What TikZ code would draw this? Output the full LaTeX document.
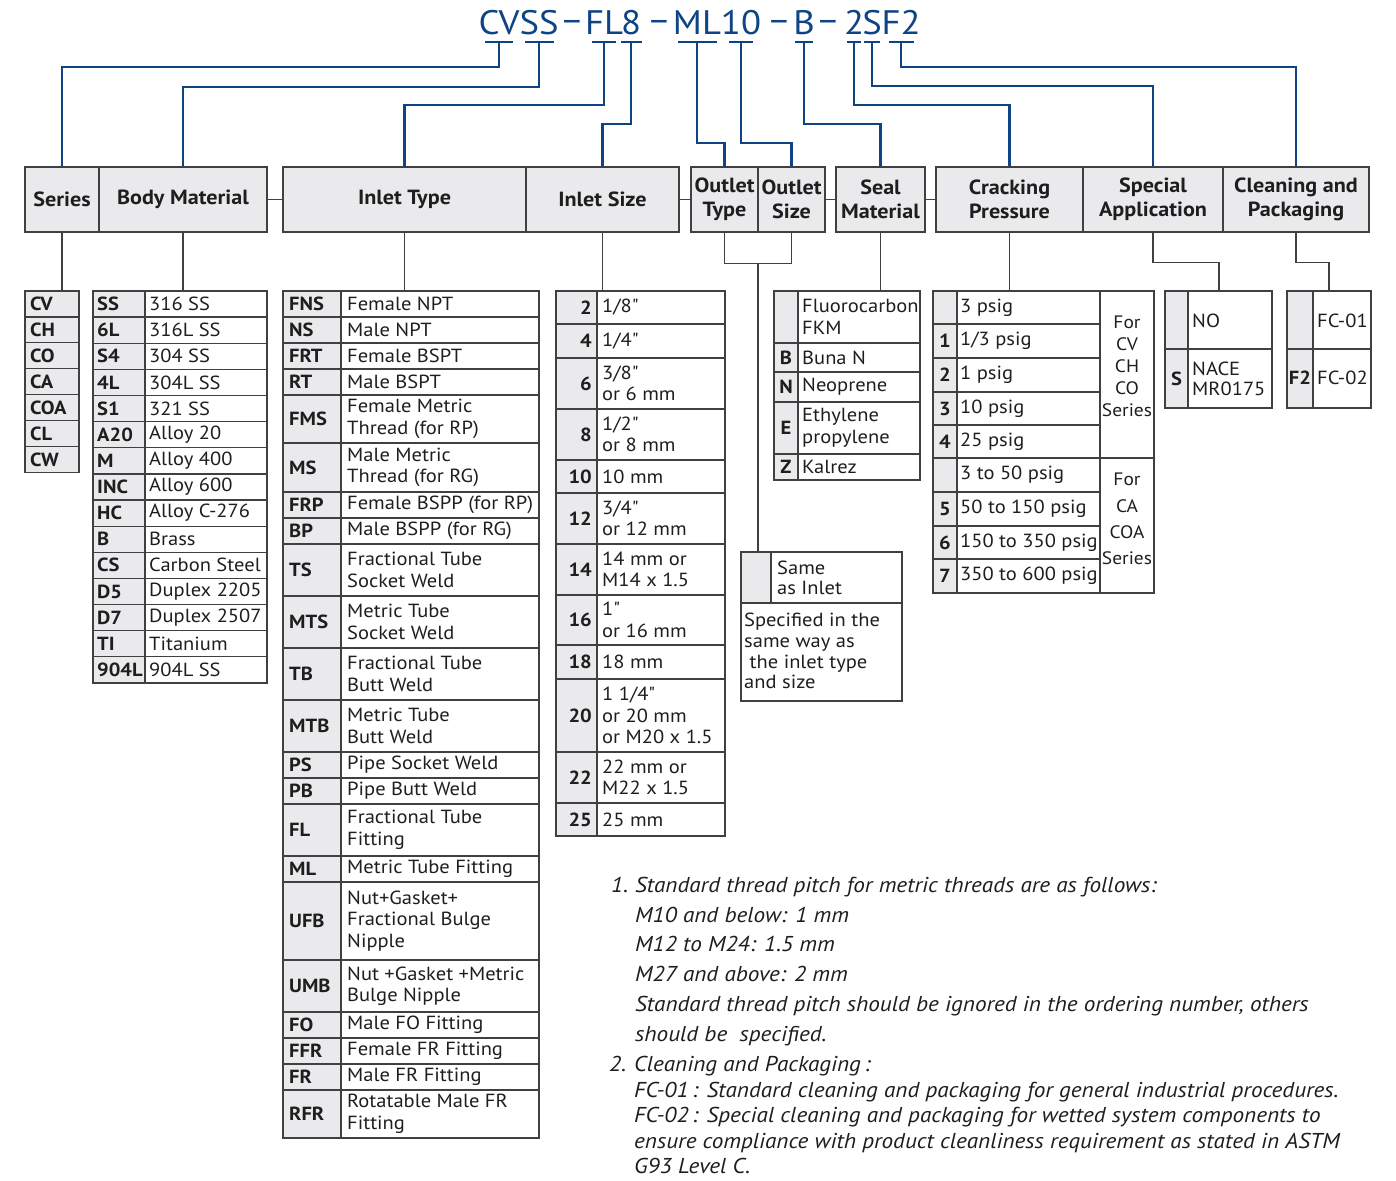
\documentclass[tikz,border=0pt]{standalone}
\usepackage{fontspec}
\setmainfont{PT Sans}[FakeStretch=1.08,Ligatures=TeXOff]
\definecolor{codeblue}{RGB}{14,68,132}
\definecolor{rulegray}{RGB}{64,64,64}
\definecolor{boxgray}{RGB}{234,234,237}
\definecolor{txtgray}{RGB}{30,30,30}
\newcommand\cellfont{\fontsize{19}{21.5}\selectfont}
\newcommand\hdrfont{\fontsize{20.5}{24}\selectfont\bfseries}
\newcommand\titlefont{\fontsize{34}{40}\selectfont}
\newcommand\notefont{\fontsize{21.5}{29.7}\selectfont\itshape}
\begin{document}
\begin{tikzpicture}[x=1pt,y=-1pt,
    wire/.style={codeblue,line width=2.2pt},
    link/.style={rulegray,line width=1.3pt},
    hdr/.style={draw=rulegray,line width=1.5pt,fill=boxgray,minimum height=65pt,inner sep=0pt,align=center,font=\hdrfont,text=txtgray},
    cellbox/.style={draw=rulegray,line width=1.3pt},
    codebox/.style={cellbox,fill=boxgray},
    celltxt/.style={anchor=west,inner sep=0pt,align=left,font=\cellfont,text=txtgray},
    codetxt/.style={celltxt,font=\cellfont\bfseries},
    titletxt/.style={anchor=base,inner xsep=0pt,inner ysep=7pt,text depth=0pt,font=\titlefont,text=codeblue},
    notetxt/.style={anchor=north west,inner sep=0pt,align=left,font=\notefont,text=txtgray}]
\useasboundingbox (0,0) rectangle (1396,1180);

% Ordering number
\node[titletxt] (tCV) at (499,35) {CV};
\node[titletxt] (tSS) at (539,35) {SS};
\node[titletxt] (tDa) at (572,35) {\raisebox{3pt}{–}};
\node[titletxt] (tFL) at (604,35) {FL};
\node[titletxt] (t8) at (631,35) {8};
\node[titletxt] (tDb) at (659,35) {\raisebox{3pt}{–}};
\node[titletxt] (tML) at (697,35) {ML};
\node[titletxt] (t10) at (741,35) {10};
\node[titletxt] (tDc) at (779,35) {\raisebox{3pt}{–}};
\node[titletxt] (tB) at (804,35) {B};
\node[titletxt] (tDd) at (828,35) {\raisebox{3pt}{–}};
\node[titletxt] (t2) at (854,35) {2};
\node[titletxt] (tS) at (872,35) {S};
\node[titletxt] (tF2) at (901,35) {F2};
\foreach \n/\w in {tCV/14,tSS/14.5,tFL/12,t8/10.5,tML/19.5,t10/12,tB/9,t2/7,tS/8,tF2/12.5}
    \draw[wire] ([xshift=-\w]\n.south) -- ([xshift=\w]\n.south);

% Headers
\node[hdr,minimum width=74] (hSeries) at (62,199.5) {Series};
\node[hdr,minimum width=168] (hBody) at (183,199.5) {Body Material};
\node[hdr,minimum width=243] (hInType) at (404.5,199.5) {Inlet Type};
\node[hdr,minimum width=153] (hInSize) at (602.5,199.5) {Inlet Size};
\node[hdr,minimum width=67] (hOutType) at (724.5,199.5) {Outlet\\Type};
\node[hdr,minimum width=67] (hOutSize) at (791.5,199.5) {Outlet\\Size};
\node[hdr,minimum width=89] (hSeal) at (880.5,199.5) {Seal\\Material};
\node[hdr,minimum width=147] (hCrack) at (1009.5,199.5) {Cracking\\Pressure};
\node[hdr,minimum width=140] (hSpecial) at (1153,199.5) {Special\\Application};
\node[hdr,minimum width=146] (hClean) at (1296,199.5) {Cleaning and\\Packaging};
\draw[link] (hBody.east) -- (hInType.west);
\draw[link] (hInSize.east) -- (hOutType.west);
\draw[link] (hOutSize.east) -- (hSeal.west);
\draw[link] (hSeal.east) -- (hCrack.west);

% Blue leaders
\draw[wire] (tCV.south) -- ++(0,25) -| (hSeries.north);
\draw[wire] (tSS.south) -- ++(0,45) -| (hBody.north);
\draw[wire] (tFL.south) -- ++(0,63) -| (hInType.north);
\draw[wire] (t8.south) -- ++(0,82) -| (hInSize.north);
\draw[wire] (tML.south) -- ++(0,101) -| (hOutType.north);
\draw[wire] (t10.south) -- ++(0,101) -| (hOutSize.north);
\draw[wire] (tB.south) -- ++(0,82) -| (hSeal.north);
\draw[wire] (t2.south) -- ++(0,63) -| (hCrack.north);
\draw[wire] (tS.south) -- ++(0,44) -| (hSpecial.north);
\draw[wire] (tF2.south) -- ++(0,25) -| (hClean.north);

% Series
\coordinate (serTop) at (25,291);
\foreach \c [count=\i from 0] in {CV,CH,CO,CA,COA,CL,CW} {
    \draw[codebox] (25,{291+25.9*\i}) rectangle ++(54,25.9);
    \node[codetxt] (ser\i) at (30,{304+25.9*\i}) {\c};
}

% Body material
\coordinate (bodyTop) at (93,291);
\foreach \c/\d [count=\i from 0] in {SS/316 SS,6L/316L SS,S4/304 SS,4L/304L SS,S1/321 SS,A20/Alloy 20,M/Alloy 400,INC/Alloy 600,HC/Alloy C-276,B/Brass,CS/Carbon Steel,D5/Duplex 2205,D7/Duplex 2507,TI/Titanium,904L/904L SS} {
    \draw[codebox] (93,{291+26.13*\i}) rectangle ++(52,26.13);
    \draw[cellbox] (145,{291+26.13*\i}) rectangle ++(122,26.13);
    \node[codetxt] (bodyc\i) at (97,{304+26.13*\i}) {\c};
    \node[celltxt] (bodyd\i) at (149,{304+26.13*\i}) {\d};
}

% Inlet type
\coordinate (typeTop) at (283,291);
\foreach \c/\d/\t/\b [count=\i] in {FNS/Female NPT/291/317,NS/Male NPT/317/343,FRT/Female BSPT/343/369,RT/Male BSPT/369/395,
    FMS/Female Metric\\Thread (for RP)/395/443,MS/Male Metric\\Thread (for RG)/443/492,FRP/Female BSPP (for RP)/492/518,
    BP/Male BSPP (for RG)/518/544,TS/Fractional Tube\\Socket Weld/544/596,MTS/Metric Tube\\Socket Weld/596/648,
    TB/Fractional Tube\\Butt Weld/648/700,MTB/Metric Tube\\Butt Weld/700/752,PS/Pipe Socket Weld/752/778,
    PB/Pipe Butt Weld/778/804,FL/Fractional Tube\\Fitting/804/856,ML/Metric Tube Fitting/856/882,
    UFB/Nut+Gasket+\\Fractional Bulge\\Nipple/882/960,UMB/Nut +Gasket +Metric\\Bulge Nipple/960/1012,
    FO/Male FO Fitting/1012/1038,FFR/Female FR Fitting/1038/1064,FR/Male FR Fitting/1064/1090,
    RFR/Rotatable Male FR\\Fitting/1090/1138} {
    \draw[codebox] (283,\t) rectangle (341,\b);
    \draw[cellbox] (341,\t) rectangle (539,\b);
    \node[codetxt] (typec\i) at (289,{(\t+\b)/2}) {\c};
    \node[celltxt] (typed\i) at (347,{(\t+\b)/2}) {\d};
}

% Inlet size
\coordinate (sizeTop) at (556,291);
\foreach \c/\d/\t/\b [count=\i] in {2/{1/8"}/291/324,4/{1/4"}/324/358,6/{3/8"\\or 6 mm}/358/409,8/{1/2"\\or 8 mm}/409/460,
    10/10 mm/460/493,12/{3/4"\\or 12 mm}/493/544,14/14 mm or\\M14 x 1.5/544/595,16/1"\\or 16 mm/595/645,
    18/18 mm/645/679,20/{1 1/4"\\or 20 mm\\or M20 x 1.5}/679/752,22/22 mm or\\M22 x 1.5/752/803,25/25 mm/803/836} {
    \draw[codebox] (556,\t) rectangle (597,\b);
    \draw[cellbox] (597,\t) rectangle (725,\b);
    \node[codetxt,anchor=east] (sizec\i) at (592,{(\t+\b)/2}) {\c};
    \node[celltxt] (sized\i) at (602,{(\t+\b)/2}) {\d};
}

% Outlet
\coordinate (outTop) at (758,552);
\draw[codebox] (741,552) rectangle (771,603);
\draw[cellbox] (771,552) rectangle (902,603);
\draw[cellbox] (741,603) rectangle (902,701);
\node[celltxt,font=\fontsize{19}{20.5}\selectfont] (outSame) at (777,578) {Same\\as Inlet};
\node[celltxt,font=\fontsize{19}{20.7}\selectfont] (outSpec) at (744,651) {Specified in the\\same way as\\\ the inlet type\\and size};

% Seal material
\coordinate (sealTop) at (774,291);
\foreach \c/\d/\t/\b [count=\i] in {{}/Fluorocarbon\\FKM/291/343,B/Buna N/343/372,N/Neoprene/372/402,
    E/Ethylene\\propylene/402/454,Z/Kalrez/454/480} {
    \draw[codebox] (774,\t) rectangle (798,\b);
    \draw[cellbox] (798,\t) rectangle (920,\b);
    \node[codetxt,anchor=center] (sealc\i) at (786,{(\t+\b)/2}) {\c};
    \node[celltxt] (seald\i) at (802,{(\t+\b)/2}) {\d};
}

% Cracking pressure
\coordinate (crackTop) at (933,291);
\foreach \c/\d/\t/\b [count=\i] in {{}/3 psig/291/324,1/{1/3 psig}/324/358,2/1 psig/358/392,3/10 psig/392/425,
    4/25 psig/425/458,{}/3 to 50 psig/458/492,5/50 to 150 psig/492/526,6/150 to 350 psig/526/559,
    7/350 to 600 psig/559/593} {
    \draw[codebox] (933,\t) rectangle (957,\b);
    \draw[cellbox] (957,\t) rectangle (1100,\b);
    \node[codetxt,anchor=center] (crackc\i) at (945,{(\t+\b)/2}) {\c};
    \node[celltxt] (crackd\i) at (960,{(\t+\b)/2}) {\d};
}
\draw[cellbox] (1100,291) rectangle (1154,458);
\draw[cellbox] (1100,458) rectangle (1154,593);
\node[celltxt,anchor=center,align=center,font=\fontsize{18}{22}\selectfont] (crackA) at (1127,366) {For\\CV\\CH\\CO\\Series};
\node[celltxt,anchor=center,align=center,font=\fontsize{18}{26.3}\selectfont] (crackB) at (1127,519) {For\\CA\\COA\\Series};

% Special application
\coordinate (specTop) at (1219,291);
\draw[codebox] (1165,291) rectangle (1188,349);
\draw[cellbox] (1188,291) rectangle (1272,349);
\draw[codebox] (1165,349) rectangle (1188,408);
\draw[cellbox] (1188,349) rectangle (1272,408);
\node[celltxt] (specNO) at (1192,321) {NO};
\node[codetxt,anchor=center] (specS) at (1176.5,379) {S};
\node[celltxt,font=\fontsize{19}{20.5}\selectfont] (specNACE) at (1192,379) {NACE\\MR0175};

% Cleaning and packaging
\coordinate (cleanTop) at (1329,291);
\draw[codebox] (1287,291) rectangle (1313,349);
\draw[cellbox] (1313,291) rectangle (1371,349);
\draw[codebox] (1287,349) rectangle (1313,408);
\draw[cellbox] (1313,349) rectangle (1371,408);
\node[celltxt] (cleanA) at (1317,321) {FC-01};
\node[codetxt,anchor=center] (cleanF2) at (1300,378) {F2};
\node[celltxt] (cleanB) at (1317,378) {FC-02};

% Header to table links
\draw[link] (hSeries.south) -- (hSeries.south |- serTop);
\draw[link] (hBody.south) -- (hBody.south |- bodyTop);
\draw[link] (hInType.south) -- (hInType.south |- typeTop);
\draw[link] (hInSize.south) -- (hInSize.south |- sizeTop);
\draw[link] (hOutType.south) -- ++(0,31) coordinate (outJoin) -| (hOutSize.south);
\draw[link] (outTop |- outJoin) -- (outTop);
\draw[link] (hSeal.south) -- (hSeal.south |- sealTop);
\draw[link] (hCrack.south) -- (hCrack.south |- crackTop);
\draw[link] (hSpecial.south) -- ++(0,30) -| (specTop);
\draw[link] (hClean.south) -- ++(0,30) -| (cleanTop);

% Notes
\node[notetxt] (note1) at (611,877) {\makebox[24pt][l]{1.}Standard thread pitch for metric threads are as follows:\\
    \hspace*{24pt}M10 and below: 1 mm\\
    \hspace*{24pt}M12 to M24: 1.5 mm\\
    \hspace*{24pt}M27 and above: 2 mm\\
    \hspace*{24pt}Standard thread pitch should be ignored in the ordering number, others\\
    \hspace*{24pt}should be\ \ specified.};
\node[notetxt,font=\fontsize{21.5}{25.5}\selectfont\itshape] (note2) at (609,1056) {\makebox[25pt][l]{2.}Cleaning and Packaging\,:\\
    \hspace*{25pt}FC-01\,: Standard cleaning and packaging for general industrial procedures.\\
    \hspace*{25pt}FC-02\,: Special cleaning and packaging for wetted system components to\\
    \hspace*{25pt}ensure compliance with product cleanliness requirement as stated in ASTM\\
    \hspace*{25pt}G93 Level C.};
\end{tikzpicture}
\end{document}
